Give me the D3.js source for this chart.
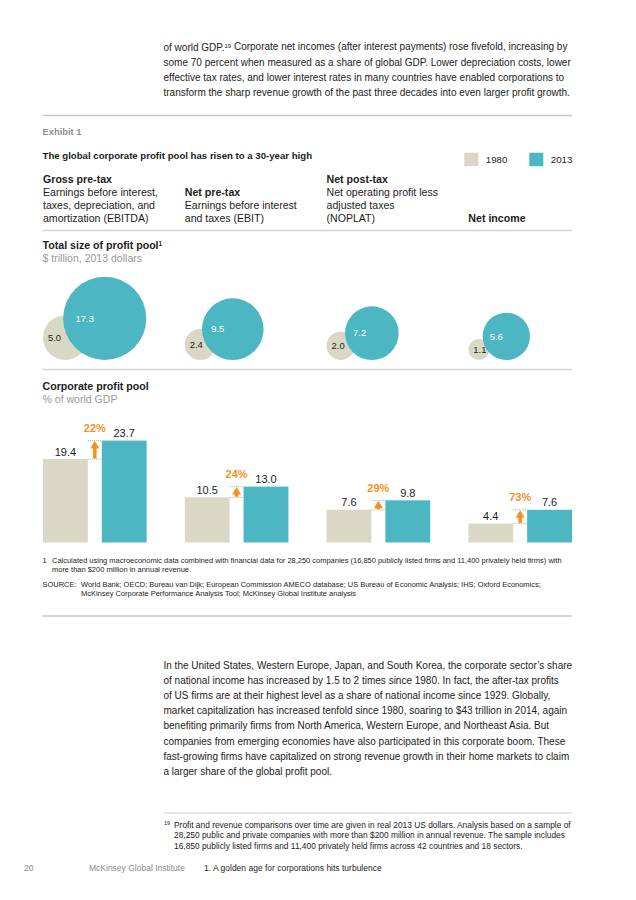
<!DOCTYPE html>
<html>
<head>
<meta charset="utf-8">
<script src="https://cdn.jsdelivr.net/npm/d3@7"></script>
<style>
  body { margin: 0; background: #fff; }
  svg { display: block; font-family: 'Liberation Sans', Arial, sans-serif; }
</style>
</head>
<body>
<div id="chart"></div>
<script>
const categories = ['Gross pre-tax', 'Net pre-tax', 'Net post-tax', 'Net income']
const descriptions = [
  ['Earnings before interest,', 'taxes, depreciation, and', 'amortization (EBITDA)'],
  ['Earnings before interest', 'and taxes (EBIT)'],
  ['Net operating profit less', 'adjusted taxes', '(NOPLAT)'],
  []
]
const years = ['1980', '2013']
const pool1980 = [5.0, 2.4, 2.0, 1.1]
const pool2013 = [17.3, 9.5, 7.2, 5.6]
const gdp1980 = [19.4, 10.5, 7.6, 4.4]
const gdp2013 = [23.7, 13.0, 9.8, 7.6]
const growthLabels = ['22%', '24%', '29%', '73%']

const topLines = [
  'Corporate net incomes (after interest payments) rose fivefold, increasing by',
  'some 70 percent when measured as a share of global GDP. Lower depreciation costs, lower',
  'effective tax rates, and lower interest rates in many countries have enabled corporations to',
  'transform the sharp revenue growth of the past three decades into even larger profit growth.'
]
const bottomLines = [
  'In the United States, Western Europe, Japan, and South Korea, the corporate sector’s share',
  'of national income has increased by 1.5 to 2 times since 1980. In fact, the after-tax profits',
  'of US firms are at their highest level as a share of national income since 1929. Globally,',
  'market capitalization has increased tenfold since 1980, soaring to $43 trillion in 2014, again',
  'benefiting primarily firms from North America, Western Europe, and Northeast Asia. But',
  'companies from emerging economies have also participated in this corporate boom. These',
  'fast-growing firms have capitalized on strong revenue growth in their home markets to claim',
  'a larger share of the global profit pool.'
]
const pageNote = [
  'Profit and revenue comparisons over time are given in real 2013 US dollars. Analysis based on a sample of',
  '28,250 public and private companies with more than $200 million in annual revenue. The sample includes',
  '16,850 publicly listed firms and 11,400 privately held firms across 42 countries and 18 sectors.'
]
const note1 = [
  'Calculated using macroeconomic data combined with financial data for 28,250 companies (16,850 publicly listed firms and 11,400 privately held firms) with',
  'more than $200 million in annual revenue.'
]
const sources = [
  'World Bank; OECD; Bureau van Dijk; European Commission AMECO database; US Bureau of Economic Analysis; IHS; Oxford Economics;',
  'McKinsey Corporate Performance Analysis Tool; McKinsey Global Institute analysis'
]

const colors = { '1980': '#d9d8c6', '2013': '#4cb6c2' }
const orange = '#f7901e'
const ink = '#1c1c1c'
const grey = '#999'

const svg = d3.select('#chart').append('svg')
    .attr('width', 636)
    .attr('height', 900)

svg.append('rect').attr('width', 636).attr('height', 900).attr('fill', '#fff')

// font size that makes a string take a given width
function fitSize(str, weight, width) {
  const t = svg.append('text').attr('font-size', 100).attr('font-weight', weight).text(str)
  const w = t.node().getComputedTextLength()
  t.remove()
  return 100 * width / w
}

function label(x, y, str, size, opts = {}) {
  return svg.append('text')
      .attr('x', x)
      .attr('y', y)
      .attr('dy', '0.35em')
      .attr('font-size', size)
      .attr('font-weight', opts.bold ? 700 : 400)
      .attr('fill', opts.fill || ink)
      .attr('text-anchor', opts.anchor || 'start')
      .text(str)
}

function rule(x1, x2, y, color, w) {
  svg.append('line')
      .attr('x1', x1).attr('x2', x2)
      .attr('y1', y).attr('y2', y)
      .attr('stroke', color)
      .attr('stroke-width', w)
}

// body text
const bodySize = fitSize(topLines[1], 400, 408)
const supSize = bodySize * 0.6

const first = label(163.5, 47, 'of world GDP.', bodySize)
first.append('tspan').attr('font-size', supSize).attr('dy', '-0.5em').text('19')
first.append('tspan').attr('dy', '0.25em').text(' ' + topLines[0])
topLines.slice(1).forEach((l, i) => label(163.5, 62.3 + i * 15, l, bodySize))

bottomLines.forEach((l, i) => label(163.5, 665 + i * 15.2, l, bodySize))

// exhibit frame
rule(42.5, 572, 115.5, '#c8c8c8', 1.5)
rule(42.5, 572, 230.5, '#d4d4d4', 1.5)
rule(42.5, 572, 369.5, '#d4d4d4', 1.5)
rule(42.5, 572, 616, '#c8c8c8', 1.5)

label(42.5, 131.5, 'Exhibit 1', fitSize('Exhibit 1', 700, 39), { bold: true, fill: '#8f8f8f' })
label(42.5, 156, 'The global corporate profit pool has risen to a 30-year high',
    fitSize('The global corporate profit pool has risen to a 30-year high', 700, 270), { bold: true })

// legend
const legSize = fitSize('1980', 400, 21.5)
const legend = svg.append('g')
legend.selectAll('g')
    .data(years)
    .join('g')
    .attr('transform', (d, i) => 'translate(' + (464.3 + i * 65) + ',152.7)')
    .each(function(d) {
      const g = d3.select(this)
      g.append('rect').attr('width', 14).attr('height', 13.5).attr('fill', colors[d])
      g.append('text').attr('x', 21.5).attr('y', 7).attr('dy', '0.35em')
          .attr('font-size', legSize).attr('fill', ink).text(d)
    })

// columns
const x0 = d3.scaleBand()
    .domain(categories)
    .range([43, 572])
    .paddingInner(0.269)
    .paddingOuter(0)

const x1 = d3.scaleBand()
    .domain(years)
    .range([0, x0.bandwidth()])
    .paddingInner(0.237)

const headBold = fitSize('Gross pre-tax', 700, 69)
const headReg = fitSize('Earnings before interest,', 400, 115)
const headLines = [179.5, 192.5, 205.5, 218.5]

categories.forEach((c, i) => {
  const lines = [c].concat(descriptions[i])
  const start = headLines.length - lines.length
  lines.forEach((l, j) => {
    label(x0(c), headLines[start + j], l, j === 0 ? headBold : headReg, { bold: j === 0 })
  })
})

// section titles
const secSize = fitSize('Corporate profit pool', 700, 106.4)
const subSize = fitSize('% of world GDP', 400, 75)

const t1 = label(42.5, 245.7, 'Total size of profit pool', secSize, { bold: true })
t1.append('tspan').attr('font-size', secSize * 0.62).attr('dy', '-0.45em').text('1')
label(42.5, 258.7, '$ trillion, 2013 dollars', subSize, { fill: grey })

label(42.5, 386, 'Corporate profit pool', secSize, { bold: true })
label(42.5, 399, '% of world GDP', subSize, { fill: grey })

// bubbles: area proportional to value, bottoms on a common line
const r = d3.scaleSqrt().domain([0, 1]).range([0, 10])
const bubbleBase = 360
const bubbleSize = fitSize('17.3', 400, 18.3)

const bubbles = categories.map((c, i) => {
  const rs = r(pool1980[i]), rb = r(pool2013[i])
  return {
    c, v0: pool1980[i], v1: pool2013[i], rs, rb,
    sx: x0(c) + rs,
    bx: x0(c) + 2 * rs + 17
  }
})

const bub = svg.append('g')
bub.selectAll('circle.y1980')
    .data(bubbles)
    .join('circle')
    .attr('class', 'y1980')
    .attr('cx', d => d.sx)
    .attr('cy', d => bubbleBase - d.rs)
    .attr('r', d => d.rs)
    .attr('fill', colors['1980'])

bub.selectAll('circle.y2013')
    .data(bubbles)
    .join('circle')
    .attr('class', 'y2013')
    .attr('cx', d => d.bx)
    .attr('cy', d => bubbleBase - d.rb)
    .attr('r', d => d.rb)
    .attr('fill', colors['2013'])

bub.selectAll('text.l1980')
    .data(bubbles)
    .join('text')
    .attr('class', 'l1980')
    .attr('x', d => d.sx - d.rs + 5)
    .attr('y', d => bubbleBase - d.rs)
    .attr('dy', '0.35em')
    .attr('font-size', bubbleSize)
    .attr('fill', ink)
    .text(d => d.v0.toFixed(1))

bub.selectAll('text.l2013')
    .data(bubbles)
    .join('text')
    .attr('class', 'l2013')
    .attr('x', d => d.bx - d.rb * 0.7)
    .attr('y', d => bubbleBase - d.rb)
    .attr('dy', '0.35em')
    .attr('font-size', bubbleSize)
    .attr('fill', '#fff')
    .text(d => d.v1.toFixed(1))

// bars
const y = d3.scaleLinear().domain([0, 25]).range([542.5, 542.5 - 25 * 4.3])

const rows = categories.map((c, i) => ({ c, v: { '1980': gdp1980[i], '2013': gdp2013[i] }, g: growthLabels[i] }))

const groups = svg.append('g')
    .selectAll('g')
    .data(rows)
    .join('g')
    .attr('transform', d => 'translate(' + x0(d.c) + ',0)')

groups.selectAll('rect')
    .data(d => years.map(yr => ({ yr, v: d.v[yr] })))
    .join('rect')
    .attr('x', d => x1(d.yr))
    .attr('y', d => y(d.v))
    .attr('width', x1.bandwidth())
    .attr('height', d => y(0) - y(d.v))
    .attr('fill', d => colors[d.yr])

groups.selectAll('text.val')
    .data(d => years.map(yr => ({ yr, v: d.v[yr] })))
    .join('text')
    .attr('class', 'val')
    .attr('x', d => x1(d.yr) + x1.bandwidth() / 2)
    .attr('y', d => y(d.v) - 3.5)
    .attr('text-anchor', 'middle')
    .attr('font-size', 11)
    .attr('fill', ink)
    .text(d => d.v.toFixed(1))

// growth arrows between the bars
groups.each(function(d) {
  const g = d3.select(this)
  const gx0 = x1('1980') + x1.bandwidth()
  const gx1 = x1('2013')
  const cx = (gx0 + gx1) / 2
  const yLow = y(d.v['1980']), yHigh = y(d.v['2013'])

  ;[yLow, yHigh].forEach(yy => {
    g.append('line')
        .attr('x1', gx0).attr('x2', gx1)
        .attr('y1', yy).attr('y2', yy)
        .attr('stroke', '#9a9a9a')
        .attr('stroke-width', 0.8)
        .attr('stroke-dasharray', '1,1')
  })

  const head = Math.min(8, yLow - yHigh)
  const p = d3.path()
  p.moveTo(cx, yHigh + 0.5)
  p.lineTo(cx + 4.5, yHigh + head)
  p.lineTo(cx + 1.75, yHigh + head)
  p.lineTo(cx + 1.75, yLow - 0.5)
  p.lineTo(cx - 1.75, yLow - 0.5)
  p.lineTo(cx - 1.75, yHigh + head)
  p.lineTo(cx - 4.5, yHigh + head)
  p.closePath()
  g.append('path').attr('d', p.toString()).attr('fill', orange)

  g.append('text')
      .attr('x', cx)
      .attr('y', yHigh - 8.6)
      .attr('text-anchor', 'middle')
      .attr('font-size', 11)
      .attr('font-weight', 700)
      .attr('fill', orange)
      .text(d.g)
})

// exhibit notes
const noteSize = fitSize(note1[0], 400, 510)
label(42.5, 560, '1', noteSize)
note1.forEach((l, i) => label(52, 560 + i * 9.5, l, noteSize))
label(42.5, 584, 'SOURCE:', noteSize)
sources.forEach((l, i) => label(81, 584 + i * 9.5, l, noteSize))

// page footnote and footer
rule(164, 572, 813, '#cfcfcf', 1)
const pnSize = fitSize(pageNote[0], 400, 397)
label(164, 823, '19', pnSize * 0.65)
pageNote.forEach((l, i) => label(174, 825 + i * 10.5, l, pnSize))

const ftSize = fitSize('1. A golden age for corporations hits turbulence', 400, 178)
label(24, 868, '20', ftSize, { fill: '#8a8a8a' })
label(89, 868, 'McKinsey Global Institute', ftSize, { fill: '#8a8a8a' })
label(204, 868, '1. A golden age for corporations hits turbulence', ftSize)
</script>
</body>
</html>
